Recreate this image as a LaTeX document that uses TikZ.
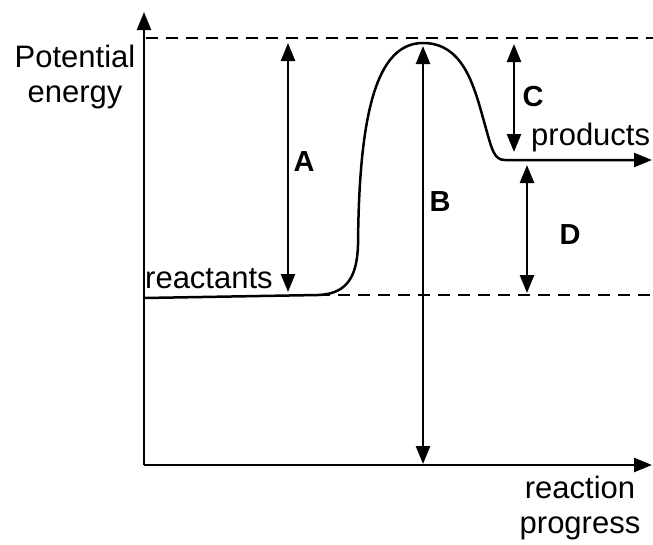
\documentclass[tikz,border=0pt]{standalone}
\usepackage{fontspec}
\setmainfont{Liberation Sans}
\usetikzlibrary{arrows.meta}
\begin{document}
\begin{tikzpicture}[x=1pt,y=-1pt,>={Triangle[length=18pt,width=14pt]},
        line/.style={line width=2.5pt},
        guide/.style={line width=2.2pt,dash pattern=on 12pt off 8pt},
        txt/.style={inner sep=0pt,font=\fontsize{31}{35}\selectfont},
        letter/.style={inner sep=0pt,font=\fontsize{29}{33}\selectfont\bfseries}]
        \useasboundingbox (0,0) rectangle (653,544);
        \coordinate (origin) at (144,465);
        \coordinate (yTip) at (144,12);
        \coordinate (xTip) at (652,465);
        \coordinate (reactStart) at (144,298);
        \coordinate (reactEnd) at (318,295);
        \coordinate (peak) at (423,43);
        \coordinate (prodStart) at (505,160);
        \coordinate (prodTip) at (652,160);
        \draw[guide] (146,38) -- (653,38);
        \draw[guide] (reactEnd) -- (653,295);
        \draw[line,->] (origin) -- (yTip);
        \draw[line,->] (origin) -- (xTip);
        \draw[line,->] (reactStart) -- (reactEnd)
            .. controls (346,294) and (357,278) .. (358,245)
            .. controls (359,115) and (376,43) .. (peak)
            .. controls (465,43) and (475,90) .. (485,125)
            .. controls (492,150) and (494,160) .. (prodStart) -- (prodTip);
        \coordinate (aTop) at (288,43);
        \coordinate (aBot) at (288,292);
        \coordinate (bTop) at (423,46);
        \coordinate (bBot) at (423,464);
        \coordinate (cTop) at (514,44);
        \coordinate (cBot) at (514,152);
        \coordinate (dTop) at (527,165);
        \coordinate (dBot) at (527,293);
        \draw[line,<->] (aTop) -- (aBot);
        \draw[line,<->] (bTop) -- (bBot);
        \draw[line,<->] (cTop) -- (cBot);
        \draw[line,<->] (dTop) -- (dBot);
        \node[letter] (letterA) at (304,162) {A};
        \node[letter] (letterB) at (440,202) {B};
        \node[letter] (letterC) at (533,97) {C};
        \node[letter] (letterD) at (570,235) {D};
        \node[txt,align=center,anchor=base] (yLabel) at (75,102) {Potential\\energy};
        \node[txt,anchor=base west] (reactants) at (145,288) {reactants};
        \node[txt,anchor=base west] (products) at (531,145) {products};
        \node[txt,align=center,anchor=base] (xLabel) at (580,533) {reaction\\progress};
    \end{tikzpicture}
\end{document}
